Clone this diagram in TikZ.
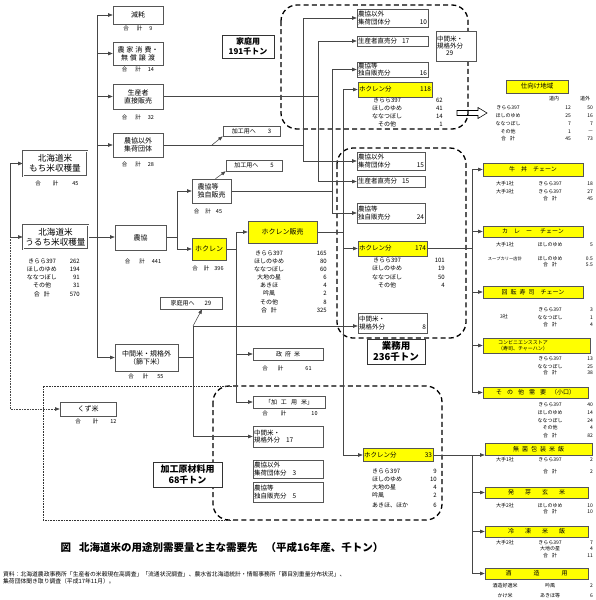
\documentclass[tikz,border=0pt]{standalone}
\usepackage{fontspec}
\setmainfont{Noto Sans CJK JP}
\usetikzlibrary{arrows.meta,calc}
\definecolor{hy}{RGB}{255,255,0}
\definecolor{bd}{RGB}{85,85,85}
\definecolor{lc}{RGB}{70,70,70}
\newcommand\fzA{\fontsize{7}{8.2}\selectfont}
\newcommand\fzB{\fontsize{6}{7.2}\selectfont}
\newcommand\fzC{\fontsize{5}{6}\selectfont}
\newcommand\fzD{\fontsize{8.6}{10.4}\selectfont}
\newcommand\fzE{\fontsize{4.3}{5}\selectfont}
\newcommand\fzF{\fontsize{6.5}{7.3}\selectfont}
\newcommand\fzG{\fontsize{5.5}{6}\selectfont}
\newcommand\kei{合\hspace{4pt}計}
\pgfdeclarelayer{bg}
\pgfsetlayers{bg,main}
\begin{document}
\begin{tikzpicture}[x=1pt,y=-1pt,
  ln/.style={draw=lc,line width=0.55pt},
  arr/.style={ln,-{Triangle[length=4.5pt,width=3.4pt]}},
  bx/.style={draw=bd,line width=0.6pt,fill=white,inner sep=1pt,font=\fzA,align=center},
  ybx/.style={bx,fill=hy},
  sz/.style 2 args={minimum width=#1pt,minimum height=#2pt},
  lt/.style={text width=#1pt,align=left,font=\fzF},
  dbl/.style={double=white,double distance=0.8pt,line width=0.6pt},
  tx/.style={inner sep=0pt,font=\fzB},
  rx/.style={inner sep=0pt,font=\fzC},
  sm/.style={inner sep=0pt,font=\fzG},
  dbox/.style={draw=black,line width=1.3pt,dash pattern=on 5pt off 3.2pt,rounded corners=16pt},
  lab/.style={draw=black!80,line width=0.8pt,fill=white,align=center,inner sep=1pt},
]
\useasboundingbox (0,0) rectangle (595,600);

% ---------- boxes column 1/2 ----------
\node[bx,sz={50}{18}] (gen) at (138,15) {減耗};
\node[bx,sz={50}{23}] (nouka) at (138,53.5) {農\hspace{2pt}家\hspace{2pt}消\hspace{2pt}費・\\無\hspace{2pt}償\hspace{2pt}譲\hspace{2pt}渡};
\node[bx,sz={50}{25}] (chokuh) at (138,96.5) {生産者\\直接販売};
\node[bx,sz={50}{24}] (igai) at (138,145) {農協以外\\集荷団体};
\node[bx,dbl,sz={64}{25},font=\fzD] (mochi) at (55,163.5) {北海道米\\もち米収穫量};
\node[bx,dbl,sz={65}{24},font=\fzD] (uruchi) at (55.5,237) {北海道米\\うるち米収穫量};
\node[bx,sz={51}{25}] (noukyo) at (140.5,237.5) {農協};
\node[bx,sz={63}{27}] (chukan) at (146.5,357.5) {中間米・規格外\\（篩下米）};
\node[bx,sz={56}{14}] (kuzu) at (88,409) {くず米};
\node[bx,sz={39}{24},align=left] (noukyotoku) at (211.5,191) {農協等\\独自販売};
\node[ybx,sz={34}{22}] (hokuren) at (209,249) {ホクレン};
\node[bx,sz={56}{11},font=\fzB] (kako5) at (254,165.5) {加工用へ\hspace{12pt}5};
\node[bx,sz={57}{10},font=\fzB] (kako3) at (251.5,131) {加工用へ\hspace{12pt}3};
\node[bx,sz={62}{12},font=\fzB] (katei29) at (191,303) {家庭用へ\hspace{10pt}29};
\node[ybx,sz={69}{22}] (hokuhan) at (282.5,232) {ホクレン販売};
\node[bx,sz={70}{12},font=\fzB] (seifu) at (288,354) {政\hspace{3pt}府\hspace{3pt}米};
\node[bx,sz={72}{12},font=\fzB] (kakouyoumai) at (289,402) {「加\hspace{4pt}工\hspace{4pt}用\hspace{4pt}米」};
\node[bx,lt=68,sz={70}{21}] (chukan17) at (288,436.5) {中間米・\\規格外分\hspace{6pt}17};
\node[bx,lt=68,sz={70}{18}] (igai3) at (288,469) {農協以外\\集荷団体分\hspace{6pt}3};
\node[bx,lt=68,sz={70}{20}] (toku5) at (288,492) {農協等\\独自販売分\hspace{6pt}5};

% ---------- column 4 ----------
\node[bx,lt=69,sz={71}{18}] (kigai) at (392.5,18) {農協以外\\集荷団体分\hfill 10\hspace*{10pt}};
\node[bx,lt=69,sz={71}{10}] (kchoku) at (392.5,41) {生産者直売分\hspace{5pt}17};
\node[bx,lt=69,sz={71}{15}] (ktoku) at (392.5,69.5) {農協等\\独自販売分\hfill 16\hspace*{10pt}};
\node[ybx,lt=72,sz={74}{15}] (khoku) at (395,89.5) {ホクレン分\hfill 118\hspace*{12pt}};
\node[bx,lt=38,sz={40}{30}] (kchu29) at (456,46) {中間米・\\規格外分\\\hspace*{9pt}29};
\node[bx,lt=66,sz={68}{18}] (gigai) at (391,161) {農協以外\\集荷団体分\hfill 15\hspace*{8pt}};
\node[bx,lt=66,sz={68}{11}] (gchoku) at (391,181.5) {生産者直売分\hspace{5pt}15};
\node[bx,lt=66,sz={68}{20}] (gtoku) at (391,213) {農協等\\独自販売分\hfill 24\hspace*{8pt}};
\node[ybx,lt=67,sz={69}{15}] (ghoku) at (392.5,248.5) {ホクレン分\hfill 174\hspace*{8pt}};
\node[bx,lt=67,sz={69}{20}] (gchu8) at (392.5,323) {中間米・\\規格外分\hfill 8\hspace*{10pt}};
\node[ybx,lt=68,sz={70}{13}] (hhoku) at (398,455) {ホクレン分\hfill 33\hspace*{12pt}};

% ---------- right column ----------
\node[ybx,sz={62}{13},font=\fzF] (shimuke) at (537,86.5) {仕向け地域};
\node[ybx,sz={100}{13},font=\fzB] (gyu) at (533,169.5) {牛\hspace{6pt}丼\hspace{6pt}チェーン};
\node[ybx,sz={100}{11},font=\fzB] (curry) at (533,231.5) {カ\hspace{6pt}レ\hspace{6pt}ー\hspace{8pt}チェーン};
\node[ybx,sz={100}{12},font=\fzB] (sushi) at (533,292) {回\hspace{3pt}転\hspace{3pt}寿\hspace{3pt}司\hspace{6pt}チェーン};
\node[ybx,sz={107}{15},text width=105pt,align=left,font=\fzC] (conv) at (536.5,345.5) {\hspace*{14pt}コンビニエンスストア\\\hspace*{14pt}（寿司、チャーハン）};
\node[ybx,sz={105}{11},font=\fzB] (sonota) at (535.5,392.5) {そ\hspace{5pt}の\hspace{5pt}他\hspace{5pt}需\hspace{5pt}要\hspace{5pt}（小口）};
\node[ybx,sz={107}{12},font=\fzB] (mukin) at (538.5,449.5) {無\hspace{3pt}菌\hspace{3pt}包\hspace{3pt}装\hspace{3pt}米\hspace{3pt}飯};
\node[ybx,sz={103}{11},font=\fzB] (hatsuga) at (536.5,492.5) {発\hspace{11pt}芽\hspace{11pt}玄\hspace{11pt}米};
\node[ybx,sz={103}{11},font=\fzB] (reitou) at (536.5,531.5) {冷\hspace{11pt}凍\hspace{11pt}米\hspace{11pt}飯};
\node[ybx,sz={103}{11},font=\fzB] (shuzou) at (536.5,573.5) {酒\hspace{22pt}造\hspace{22pt}用};

% ---------- group labels ----------
\node[lab,sz={52}{23},font=\fontsize{8}{9.5}\selectfont\bfseries] (lkatei) at (248,46.5) {家庭用\\191千トン};
\node[lab,sz={58}{25},font=\fontsize{9.5}{11}\selectfont\bfseries] (lgyomu) at (396,351.5) {業務用\\236千トン};
\node[lab,sz={69}{25},font=\fontsize{9}{10.5}\selectfont\bfseries] (lkakou) at (187.5,474.5) {加工原材料用\\68千トン};

% ---------- sums ----------
\node[sm] (s1) at (138,28) {合\hspace{8pt}計\hspace{7pt}9};
\node[sm] (s2) at (138,69) {合\hspace{8pt}計\hspace{7pt}14};
\node[sm] (s3) at (138,117) {合\hspace{8pt}計\hspace{7pt}32};
\node[sm] (s4) at (138,164) {合\hspace{8pt}計\hspace{7pt}28};
\node[sm] (s5) at (57,183) {合\hspace{12pt}計\hspace{14pt}45};
\node[sm] (s6) at (143,261) {合\hspace{9pt}計\hspace{7pt}441};
\node[sm] (s7) at (208,211) {合\hspace{6pt}計\hspace{5pt}45};
\node[sm] (s8) at (208,268) {合\hspace{6pt}計\hspace{5pt}396};
\node[sm] (s9) at (146,376) {合\hspace{9pt}計\hspace{9pt}55};
\node[sm] (s10) at (96,421) {合\hspace{12pt}計\hspace{12pt}12};
\node[sm] (s11) at (287,368) {合\hspace{10pt}計\hspace{22pt}61};
\node[sm] (s12) at (290,413) {合\hspace{13pt}計\hspace{25pt}10};

% ---------- lists ----------
\foreach \yy/\a/\b [count=\i] in {261/きらら397/262, 269/ほしのゆめ/194, 277/ななつぼし/91, 285/その他/31, 294/\kei/570}
  {\node[tx] (ua\i) at (42,\yy) {\a}; \node[tx,anchor=east] (ub\i) at (80,\yy) {\b};}
\foreach \yy/\a/\b [count=\i] in {253/きらら397/165, 261/ほしのゆめ/80, 269/ななつぼし/60, 277/大地の星/6, 285/あきほ/4, 293/吟風/2, 302/その他/8, 310/\kei/325}
  {\node[tx] (ha\i) at (269,\yy) {\a}; \node[tx,anchor=east] (hb\i) at (327,\yy) {\b};}
\foreach \yy/\a/\b [count=\i] in {100/きらら397/62, 108/ほしのゆめ/41, 116/ななつぼし/14, 124/その他/1}
  {\node[tx] (ka\i) at (387,\yy) {\a}; \node[tx,anchor=east] (kb\i) at (443,\yy) {\b};}
\foreach \yy/\a/\b [count=\i] in {260/きらら397/101, 268/ほしのゆめ/19, 277/ななつぼし/50, 285/その他/4}
  {\node[tx] (ga\i) at (387,\yy) {\a}; \node[tx,anchor=east] (gb\i) at (445,\yy) {\b};}
\foreach \yy/\a/\b [count=\i] in {471/きらら397/9, 479/ほしのゆめ/10, 487/大地の星/4, 495/吟風/2, 505/あきほ、ほか/6}
  {\node[tx,anchor=west] (pa\i) at (372,\yy) {\a}; \node[tx,anchor=east] (pb\i) at (437,\yy) {\b};}
% shimuke table
\node[rx] (sh1) at (554,99) {道内};
\node[rx] (sh2) at (585,99) {道外};
\foreach \yy/\a/\b/\c [count=\i] in {108/きらら397/12/50, 116/ほしのゆめ/25/16, 124/ななつぼし/7/7, 132/その他/1/—, 139/\kei/45/73}
  {\node[rx] (sa\i) at (508,\yy) {\a}; \node[rx,anchor=east] (sb\i) at (571,\yy) {\b}; \node[rx,anchor=east] (sc\i) at (593,\yy) {\c};}
% right tables
\foreach \yy/\a/\b/\c [count=\i] in {184/大手1社/きらら397/18, 192/大手3社/きらら397/27, 199//\kei/45,
   245/大手1社/ほしのゆめ/5, 259/{\fzE スープカリー店計}/ほしのゆめ/0.5, 265//\kei/5.5,
   310//きらら397/3, 318//ななつぼし/1, 325//\kei/4,
   359//きらら397/13, 367//ななつぼし/25, 373//\kei/38,
   405//きらら397/40, 413//ほしのゆめ/14, 421//ななつぼし/24, 428//その他/4, 436//\kei/82,
   460/大手1社/きらら397/2, 472//\kei/2,
   506/大手2社/ほしのゆめ/10, 512//\kei/10,
   543/大手2社/きらら397/7, 549//大地の星/4, 556//\kei/11,
   586/酒造好適米/吟風/2, 596/かけ米/あきほ等/6}
  {\node[rx] (ra\i) at (505,\yy) {\a}; \node[rx] (rb\i) at (550,\yy) {\b}; \node[rx,anchor=east] (rc\i) at (593,\yy) {\c};}
\node[rx] (sansha) at (504,317) {3社};

% ---------- caption ----------
\node[inner sep=0,font=\fontsize{10.5}{12}\selectfont\bfseries] (cap) at (222,547) {図\hspace{8pt}北海道米の用途別需要量と主な需要先\hspace{8pt}（平成16年産、千トン）};
\node[anchor=west,inner sep=0,font=\fontsize{5.8}{7}\selectfont] (src1) at (3,574) {資料：北海道農政事務所「生産者の米穀現在高調査」「流通状況調査」、農水省北海道統計・情報事務所「篩目別重量分布状況」、};
\node[anchor=west,inner sep=0,font=\fontsize{5.8}{7}\selectfont] (src2) at (3,581) {集荷団体聞き取り調査（平成17年11月）。};

% ---------- connectors (background) ----------
\begin{pgfonlayer}{bg}
\fill[white] (0,0) rectangle (595,600);
\draw[dbox] (281,5) rectangle (468,129);
\draw[dbox] (337,148) rectangle (466,338);
\draw[dbox] (213,386) rectangle (442,520);
\draw[draw=black!80,line width=0.7pt,dash pattern=on 0.8pt off 0.8pt] (232,386) -- (43,386) -- (43,520) -- (232,520);

\coordinate (lbx) at (10,0);
\draw[ln] (lbx |- mochi.west) -- (lbx |- uruchi.west);
\draw[arr] (lbx |- mochi.west) -- (mochi.west);
\draw[arr] (lbx |- uruchi.west) -- (uruchi.west);
\draw[ln,dash pattern=on 0.8pt off 0.8pt,-{Triangle[length=4.5pt,width=3.4pt]}] (lbx |- uruchi.west) -- (lbx |- kuzu.west) -- (kuzu.west);

\coordinate (mvx) at (97,0);
\draw[ln] (mvx |- gen.west) -- (mvx |- chukan.west);
\foreach \n in {gen,nouka,chokuh,igai,chukan} \draw[arr] (mvx |- \n.west) -- (\n.west);
\draw[arr] (uruchi.east) -- (uruchi.east -| noukyo.west);

\coordinate (j1) at (177,0);
\draw[ln] (noukyo.east) -- (j1 |- noukyo.east);
\draw[ln] (j1 |- noukyotoku.west) -- (j1 |- hokuren.west);
\draw[arr] (j1 |- noukyotoku.west) -- (noukyotoku.west);
\draw[arr] (j1 |- hokuren.west) -- (hokuren.west);

\coordinate (j2) at (236,0);
\draw[ln] (hokuren.east) -- (j2 |- hokuren.east);
\draw[ln] (j2 |- hokuhan.west) -- (j2 |- kakouyoumai.west);
\foreach \n in {hokuhan,seifu,kakouyoumai} \draw[arr] (j2 |- \n.west) -- (\n.west);

\coordinate (j3x) at (193,0);
\coordinate (j3t) at (193,326);
\draw[ln] (chukan.east) -- (j3x |- chukan.east);
\draw[ln] (j3t) -- (j3x |- chukan17.west);
\draw[arr] (j3t) -- (j3t -| gchu8.west);
\draw[arr] (j3x |- chukan17.west) -- (chukan17.west);
\draw[arr] (j3t) -- ($(katei29.south)+(11,0)$);

\coordinate (ka3) at (212,0);
\draw[arr] (ka3 |- igai.east) -- (kako3.south west);
\draw[arr] ($(noukyotoku.north)+(4,0)$) -- (kako5.south west);

\coordinate (v1) at (303,0);
\coordinate (v2) at (318,0);
\coordinate (v3) at (332,0);
\coordinate (v4) at (343,0);
\draw[ln] (igai.east) -- (v1 |- igai.east);
\draw[ln] (v1 |- kigai.west) -- (v1 |- gigai.west);
\draw[arr] (v1 |- kigai.west) -- (kigai.west);
\draw[arr] (v1 |- gigai.west) -- (gigai.west);
\draw[ln] (chokuh.east) -- (v2 |- chokuh.east);
\draw[ln] (v2 |- kchoku.west) -- (v2 |- gchoku.west);
\draw[arr] (v2 |- kchoku.west) -- (kchoku.west);
\draw[arr] (v2 |- gchoku.west) -- (gchoku.west);
\draw[ln] (noukyotoku.east) -- (v3 |- noukyotoku.east);
\draw[ln] (v3 |- ktoku.west) -- (v3 |- gtoku.west);
\draw[arr] (v3 |- ktoku.west) -- (ktoku.west);
\draw[arr] (v3 |- gtoku.west) -- (gtoku.west);
\draw[ln] (hokuhan.east) -- (v4 |- hokuhan.east);
\draw[ln] (v4 |- khoku.west) -- (v4 |- hhoku.west);
\foreach \n in {khoku,ghoku,hhoku} \draw[arr] (v4 |- \n.west) -- (\n.west);

\coordinate (v5) at (472,0);
\draw[ln] (ghoku.east) -- (v5 |- ghoku.east);
\draw[ln] (v5 |- gyu.west) -- (v5 |- sonota.west);
\foreach \n in {gyu,curry,sushi,conv,sonota} \draw[arr] (v5 |- \n.west) -- (\n.west);
\draw[arr] (hhoku.east) -- (hhoku.east -| mukin.west);
\draw[ln] (v5 |- hhoku.east) -- (v5 |- shuzou.west);
\foreach \n in {hatsuga,reitou,shuzou} \draw[arr] (v5 |- \n.west) -- (\n.west);

\draw[line width=0.55pt] (457,110.5) -- (478,110.5) -- (478,107.5) -- (487,113) -- (478,118.5) -- (478,115.5) -- (457,115.5) -- cycle;
\end{pgfonlayer}
\end{tikzpicture}
\end{document}
